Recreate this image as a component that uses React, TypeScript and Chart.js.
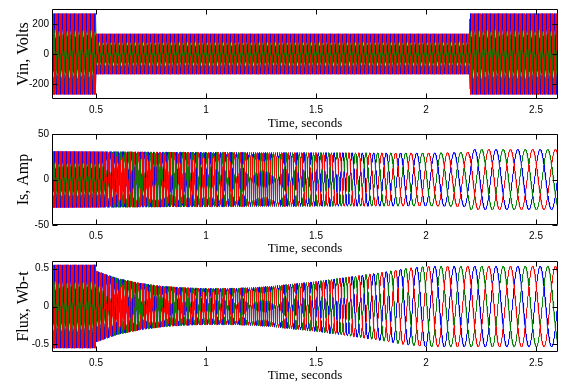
import React, { useEffect, useRef } from "react";
import { Chart, registerables } from "chart.js";

Chart.register(...registerables);

// ---- shared time axis ----
const timeRange = [0.3, 2.6];
const xTicks = [0.5, 1, 1.5, 2, 2.5];
const sampleStep = [0.0004];

// ---- Vin, Volts (envelope breakpoints + supply frequency) ----
const vinEnvTime = [0.3, 0.5, 0.5, 2.2, 2.2, 2.6];
const vinEnvAmp = [270, 270, 135, 135, 270, 270];
const vinFreqTime = [0.3, 2.6];
const vinFreqHz = [55, 55];
const vinYRange = [-300, 300];
const vinYTicks = [-200, 0, 200];

// ---- Is, Amp ----
const isEnvTime = [0.3, 1.0, 2.0, 2.2, 2.2, 2.6];
const isEnvAmp = [31, 30, 29, 30, 33, 33];
const motorFreqTime = [0.3, 0.5, 1.0, 1.5, 1.7, 1.8, 1.9, 2.0, 2.2, 2.6];
const motorFreqHz = [55, 55, 44, 30, 21, 17, 14, 12, 10.5, 9.5];
const isYRange = [-50, 50];
const isYTicks = [-50, 0, 50];

// ---- Flux, Wb-t ----
const fluxEnvTime = [0.3, 0.5, 0.5, 0.6, 0.7, 0.8, 0.9, 1.0, 1.1, 1.2, 1.3, 1.4, 1.5, 1.6, 1.7, 1.8, 1.9, 2.0, 2.6];
const fluxEnvAmp = [0.55, 0.55, 0.47, 0.37, 0.31, 0.27, 0.25, 0.24, 0.24, 0.25, 0.27, 0.3, 0.33, 0.37, 0.41, 0.45, 0.5, 0.53, 0.53];
const fluxYRange = [-0.6, 0.6];
const fluxYTicks = [-0.5, 0, 0.5];

const phaseColors = ["#ff0000", "#008000", "#0000ff"]; // red on top, then green, blue
const phaseShifts = [0, 2 / 3, -2 / 3]; // red, green(+120), blue(-120) in units of PI

function lookup(ts: number[], vs: number[], t: number) {
  if (t <= ts[0]) return vs[0];
  for (let i = 0; i < ts.length - 1; i++) {
    if (t >= ts[i] && t < ts[i + 1]) {
      return vs[i] + ((vs[i + 1] - vs[i]) * (t - ts[i])) / (ts[i + 1] - ts[i]);
    }
  }
  return vs[vs.length - 1];
}

function threePhase(envT: number[], envA: number[], fT: number[], fHz: number[]) {
  const step = sampleStep[0];
  const n = Math.round((timeRange[1] - timeRange[0]) / step);
  const out: { x: number; y: number }[][] = [[], [], []];
  let phase = 0;
  for (let i = 0; i <= n; i++) {
    const t = timeRange[0] + i * step;
    const a = lookup(envT, envA, t);
    for (let k = 0; k < 3; k++) {
      out[k].push({ x: t, y: a * Math.sin(phase + phaseShifts[k] * Math.PI) });
    }
    phase += 2 * Math.PI * lookup(fT, fHz, t) * step;
  }
  return out;
}

const framePlugin = {
  id: "frame",
  afterDatasetsDraw(chart: any) {
    const { ctx, chartArea: a, scales } = chart;
    const L = Math.round(a.left) + 0.5;
    const R = Math.round(a.right) - 0.5;
    const T = Math.round(a.top) + 0.5;
    const B = Math.round(a.bottom) - 0.5;
    ctx.save();
    ctx.strokeStyle = "#000";
    ctx.lineWidth = 1;
    ctx.beginPath();
    ctx.rect(L, T, R - L, B - T);
    const tl = 5;
    scales.x.ticks.forEach((tk: any) => {
      const px = Math.round(scales.x.getPixelForValue(tk.value)) + 0.5;
      ctx.moveTo(px, T);
      ctx.lineTo(px, T + tl);
      ctx.moveTo(px, B);
      ctx.lineTo(px, B - tl);
    });
    scales.y.ticks.forEach((tk: any) => {
      const py = Math.round(scales.y.getPixelForValue(tk.value)) + 0.5;
      ctx.moveTo(L, py);
      ctx.lineTo(L + tl, py);
      ctx.moveTo(R, py);
      ctx.lineTo(R - tl, py);
    });
    ctx.stroke();
    ctx.restore();
  },
};

const tickFont = { family: "'Liberation Sans', Arial, sans-serif", size: 10 };
const serifFont = "'Liberation Serif', 'Times New Roman', serif";

type PanelProps = {
  top: number;
  height: number;
  plotTop: number;
  plotHeight: number;
  yLabel: string;
  yRange: number[];
  yTicks: number[];
  series: { x: number; y: number }[][];
};

function Panel(p: PanelProps) {
  const ref = useRef<HTMLCanvasElement>(null);
  useEffect(() => {
    if (!ref.current) return;
    const chart = new Chart(ref.current, {
      type: "line",
      data: {
        datasets: p.series.map((d, k) => ({
          data: d,
          borderColor: phaseColors[k],
          borderWidth: 1,
          pointRadius: 0,
          fill: false,
          tension: 0,
        })),
      },
      options: {
        responsive: false,
        animation: false,
        devicePixelRatio: 1,
        parsing: false,
        normalized: true,
        events: [],
        layout: { padding: { top: p.plotTop, right: 8, left: 0, bottom: 0 } },
        plugins: { legend: { display: false }, tooltip: { enabled: false } },
        scales: {
          x: {
            type: "linear",
            min: timeRange[0],
            max: timeRange[1],
            grid: { display: false, drawTicks: false },
            border: { display: false },
            afterBuildTicks: (s: any) => {
              s.ticks = xTicks.map((v) => ({ value: v }));
            },
            afterFit: (s: any) => {
              s.height = p.height - p.plotTop - p.plotHeight;
            },
            ticks: {
              padding: 5,
              color: "#000",
              font: tickFont,
              maxRotation: 0,
              autoSkip: false,
              callback: (v: any) => String(v),
            },
            title: {
              display: true,
              text: "Time, seconds",
              color: "#000",
              font: { family: serifFont, size: 13 },
              padding: { top: 0, bottom: 0 },
            },
          },
          y: {
            type: "linear",
            min: p.yRange[0],
            max: p.yRange[1],
            grid: { display: false, drawTicks: false },
            border: { display: false },
            afterBuildTicks: (s: any) => {
              s.ticks = p.yTicks.map((v) => ({ value: v }));
            },
            afterFit: (s: any) => {
              s.width = 52;
            },
            ticks: {
              padding: 3,
              color: "#000",
              font: tickFont,
              autoSkip: false,
              callback: (v: any) => String(v),
            },
            title: {
              display: true,
              text: p.yLabel,
              color: "#000",
              font: { family: serifFont, size: 16 },
              padding: { top: 14, bottom: 0 },
            },
          },
        },
      },
      plugins: [framePlugin],
    } as any);
    return () => chart.destroy();
  }, []);
  return (
    <canvas
      ref={ref}
      width={566}
      height={p.height}
      style={{ position: "absolute", left: 0, top: p.top, width: 566, height: p.height }}
    />
  );
}

export default function App() {
  const vin = threePhase(vinEnvTime, vinEnvAmp, vinFreqTime, vinFreqHz);
  const is = threePhase(isEnvTime, isEnvAmp, motorFreqTime, motorFreqHz);
  const flux = threePhase(fluxEnvTime, fluxEnvAmp, motorFreqTime, motorFreqHz);
  return (
    <div style={{ position: "fixed", left: 0, top: 0, width: 566, height: 383, background: "#fff" }}>
      <Panel top={0} height={131} plotTop={9} plotHeight={90} yLabel="Vin, Volts" yRange={vinYRange} yTicks={vinYTicks} series={vin} />
      <Panel top={125} height={131} plotTop={9} plotHeight={91} yLabel="Is, Amp" yRange={isYRange} yTicks={isYTicks} series={is} />
      <Panel top={252} height={131} plotTop={9} plotHeight={91} yLabel="Flux, Wb-t" yRange={fluxYRange} yTicks={fluxYTicks} series={flux} />
    </div>
  );
}
